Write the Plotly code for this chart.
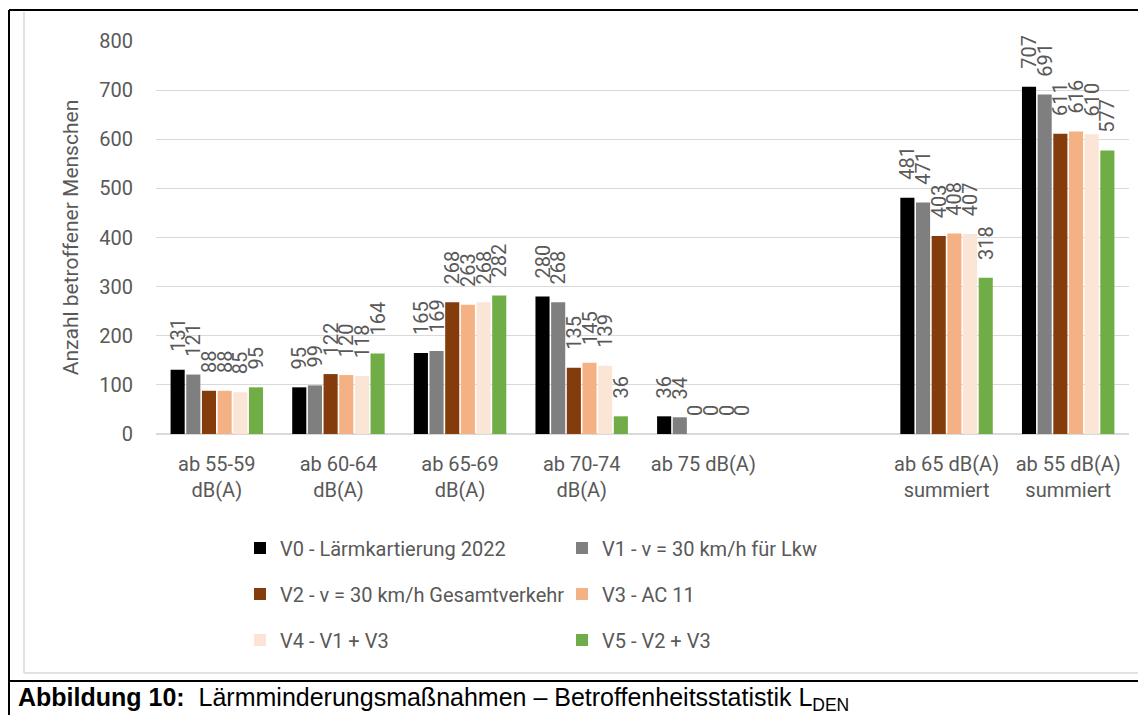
import plotly.graph_objects as go

categories = ["ab 55-59<br>dB(A)", "ab 60-64<br>dB(A)", "ab 65-69<br>dB(A)", "ab 70-74<br>dB(A)",
              "ab 75 dB(A)", " ", "ab 65 dB(A)<br>summiert", "ab 55 dB(A)<br>summiert"]

series_names = ["V0 - Lärmkartierung 2022", "V1 - v = 30 km/h für Lkw",
                "V2 - v = 30 km/h Gesamtverkehr", "V3 - AC 11",
                "V4 - V1 + V3", "V5 - V2 + V3"]

v0 = [131, 95, 165, 280, 36, None, 481, 707]
v1 = [121, 99, 169, 268, 34, None, 471, 691]
v2 = [88, 122, 268, 135, 0, None, 403, 611]
v3 = [88, 120, 263, 145, 0, None, 408, 616]
v4 = [85, 118, 268, 139, 0, None, 407, 610]
v5 = [95, 164, 282, 36, 0, None, 318, 577]

series_values = [v0, v1, v2, v3, v4, v5]
colors = ["#000000", "#7f7f7f", "#843c0c", "#f4b183", "#fbe5d6", "#70ad47"]
legend_ids = ["legend", "legend", "legend2", "legend2", "legend3", "legend3"]

W, H = 1138, 715
L, R, T, B = 156, 9, 41, 281
pw = W - L - R
ph = H - T - B


def px_x(p):
    return (p - L) / pw


def px_y(p):
    return (H - B - p) / ph


FONT = "Roboto, 'Open Sans', sans-serif"
GRAY = "#595959"

fig = go.Figure()
for name, vals, col, lg in zip(series_names, series_values, colors, legend_ids):
    fig.add_trace(go.Bar(
        x=categories, y=vals, name=name, marker_color=col,
        marker_line_width=0,
        texttemplate="\u00a0\u00a0\u00a0%{y}", textposition="outside",
        textangle=-90, constraintext="none", cliponaxis=False,
        textfont=dict(family=FONT, size=20, color=GRAY),
        legend=lg,
    ))

leg_common = dict(orientation="h", xanchor="left", yanchor="middle",
                  font=dict(family=FONT, size=20, color=GRAY),
                  entrywidth=277, bgcolor="rgba(0,0,0,0)")

tick_cats = [c for c in categories if c.strip()]

fig.update_layout(
    width=W, height=H,
    margin=dict(l=L, r=R, t=T, b=B, autoexpand=False),
    paper_bgcolor="white", plot_bgcolor="white",
    barmode="group", bargap=0.227, bargroupgap=0.1,
    font=dict(family=FONT, color=GRAY),
    legend=dict(x=px_x(240), y=px_y(548), **leg_common),
    legend2=dict(x=px_x(240), y=px_y(594), **leg_common),
    legend3=dict(x=px_x(240), y=px_y(640), **leg_common),
    xaxis=dict(type="category", categoryorder="array", categoryarray=categories,
               tickmode="array", tickvals=tick_cats, ticktext=tick_cats,
               tickfont=dict(family=FONT, size=20, color=GRAY),
               showgrid=False, showline=True, linecolor="#d9d9d9", linewidth=1,
               ticks="", ticklabelstandoff=12),
    yaxis=dict(range=[0, 800], dtick=100, tickfont=dict(family=FONT, size=20, color=GRAY),
               showgrid=True, gridcolor="#d9d9d9", gridwidth=1,
               zeroline=True, zerolinecolor="#d9d9d9", ticks="",
               ticklabelstandoff=22,
               title=dict(text="Anzahl betroffener Menschen",
                          font=dict(family=FONT, size=21, color=GRAY), standoff=14)),
)

# Frame decorations (figure border, chart area border, caption separator)
LG = dict(color="#d9d9d9", width=1.5)
LB = dict(color="black", width=2)
shapes = [
    dict(type="line", xref="paper", yref="paper", x0=px_x(24), x1=px_x(24),
         y0=px_y(673), y1=px_y(12), line=LG, layer="below"),
    dict(type="line", xref="paper", yref="paper", x0=px_x(24), x1=px_x(1138),
         y0=px_y(673), y1=px_y(673), line=LG, layer="below"),
    dict(type="line", xref="paper", yref="paper", x0=px_x(9), x1=px_x(1138),
         y0=px_y(10), y1=px_y(10), line=LB),
    dict(type="line", xref="paper", yref="paper", x0=px_x(9), x1=px_x(9),
         y0=px_y(10), y1=px_y(715), line=LB),
    dict(type="line", xref="paper", yref="paper", x0=px_x(9), x1=px_x(1138),
         y0=px_y(681), y1=px_y(681), line=LB),
]
fig.update_layout(shapes=shapes)

fig.add_annotation(
    xref="paper", yref="paper", x=px_x(16), y=px_y(699), xanchor="left", yanchor="middle",
    showarrow=False,
    text="<b>Abbildung 10:</b>  Lärmminderungsmaßnahmen – Betroffenheitsstatistik L<sub>DEN</sub>",
    font=dict(family="'Liberation Sans', Arial, sans-serif", size=25, color="black"),
)

fig.write_html("out.html", config={"displayModeBar": False},
               post_script="document.body.style.margin='0';document.body.style.overflow='hidden';document.documentElement.style.overflow='hidden';")
